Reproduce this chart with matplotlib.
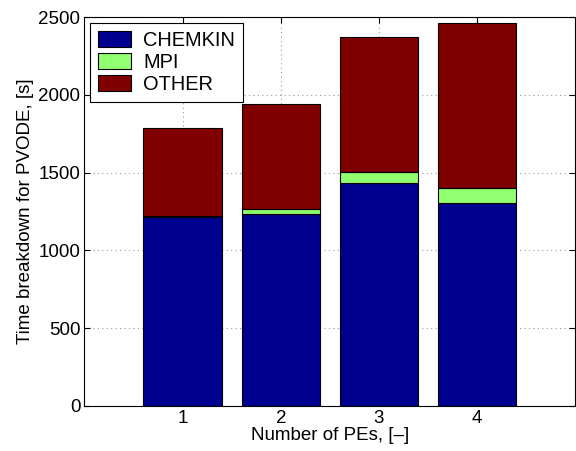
import matplotlib
matplotlib.use('Agg')
import matplotlib.pyplot as plt
import numpy as np

plt.rcParams['font.family'] = ['Liberation Sans', 'DejaVu Sans']

# data
pes = [1, 2, 3, 4]
chemkin = [1217, 1232, 1435, 1307]
mpi = [3, 32, 71, 92]
total = [1787, 1941, 2373, 2463]
other = [t - c - m for t, c, m in zip(total, chemkin, mpi)]

labels = ['CHEMKIN', 'MPI', 'OTHER']
colors = ['#000090', '#90FF70', '#800000']

fs = 13.5
fig = plt.figure(figsize=(5.76, 4.51), dpi=100)
ax = fig.add_axes([0.1467, 0.0998, 0.852, 0.8625])

x = np.array(pes)
c = np.array(chemkin)
m = np.array(mpi)
o = np.array(other)
ax.bar(x, c, 0.8, color=colors[0], edgecolor='black', linewidth=0.8, label=labels[0], zorder=3)
ax.bar(x, m, 0.8, bottom=c, color=colors[1], edgecolor='black', linewidth=0.8, label=labels[1], zorder=3)
ax.bar(x, o, 0.8, bottom=c + m, color=colors[2], edgecolor='black', linewidth=0.8, label=labels[2], zorder=3)

ax.set_xlim(0, 5)
ax.set_ylim(0, 2500)
ax.set_xticks(pes)
ax.set_yticks([0, 500, 1000, 1500, 2000, 2500])
ax.grid(True, linestyle=(0, (1, 3)), color='#999999', linewidth=0.8, zorder=0)
ax.tick_params(direction='in', top=True, right=True, labelsize=fs, length=4, width=0.8, pad=3)
for s in ax.spines.values():
    s.set_linewidth(0.8)
    s.set_zorder(4)

ax.set_xlabel('Number of PEs, [\u2013]', fontsize=fs, labelpad=0)
ax.set_ylabel('Time breakdown for PVODE, [s]', fontsize=fs, labelpad=3)

leg = ax.legend(loc='upper left', fontsize=14.4, handlelength=1.65, handleheight=0.8,
                fancybox=False, edgecolor='black', framealpha=1,
                borderaxespad=0.3, labelspacing=0.15, borderpad=0.4, handletextpad=0.58)
leg.get_frame().set_linewidth(0.8)

fig.savefig('out.png', dpi=100)
